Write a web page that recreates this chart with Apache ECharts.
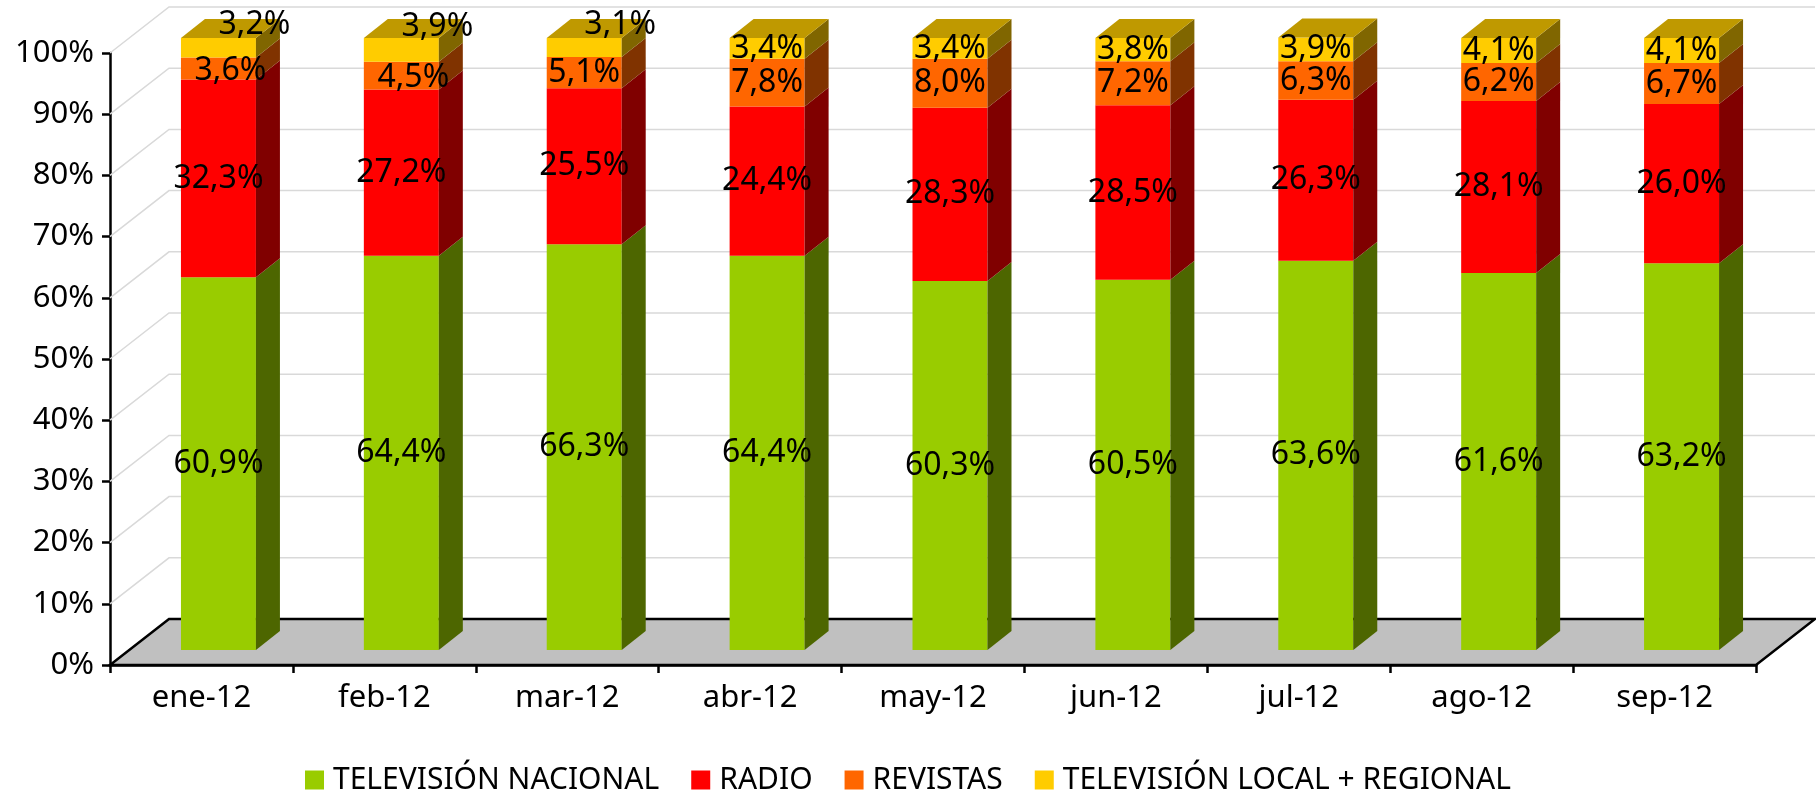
<!DOCTYPE html>
<html>
<head>
<meta charset="utf-8">
<style>
  html, body { margin: 0; padding: 0; background: #fff; }
  #chart { width: 1816px; height: 793px; }
</style>
<script src="https://cdn.jsdelivr.net/npm/echarts@6/dist/echarts.min.js"></script>
</head>
<body>
<div id="chart"></div>
<script>
// Cuota de inversión por medio, ene-12 a sep-12 (100% apilado, estilo 3D)

const months = ['ene-12', 'feb-12', 'mar-12', 'abr-12', 'may-12', 'jun-12', 'jul-12', 'ago-12', 'sep-12']
const tvNacional = [60.9, 64.4, 66.3, 64.4, 60.3, 60.5, 63.6, 61.6, 63.2]
const radio = [32.3, 27.2, 25.5, 24.4, 28.3, 28.5, 26.3, 28.1, 26.0]
const revistas = [3.6, 4.5, 5.1, 7.8, 8.0, 7.2, 6.3, 6.2, 6.7]
const tvLocal = [3.2, 3.9, 3.1, 3.4, 3.4, 3.8, 3.9, 4.1, 4.1]
const yTicks = [10, 20, 30, 40, 50, 60, 70, 80, 90, 100]

const FONT = '"Noto Sans", "DejaVu Sans", sans-serif'
const WALL_DEPTH = [59, -46]   // desplazamiento de la pared del fondo
const BAR_SHIFT = [17, -15]    // la columna está a media profundidad
const BAR_DEPTH = [24, -19]
const BAR_RATIO = 0.41

const SERIES = [
  { name: 'TELEVISIÓN NACIONAL', color: '#99cc00', values: tvNacional },
  { name: 'RADIO', color: '#ff0000', values: radio },
  { name: 'REVISTAS', color: '#ff6600', values: revistas },
  { name: 'TELEVISIÓN LOCAL + REGIONAL', color: '#ffcc00', values: tvLocal }
]

function shade(hex, f) {
  const n = parseInt(hex.slice(1), 16)
  const r = Math.round(((n >> 16) & 255) * f)
  const g = Math.round(((n >> 8) & 255) * f)
  const b = Math.round((n & 255) * f)
  return 'rgb(' + r + ',' + g + ',' + b + ')'
}

function pct(v) {
  return v.toFixed(1).replace('.', ',') + '%'
}

// etiquetas que Excel desplaza fuera de la columna (arriba a la derecha)
function labelOffset(k, i) {
  if (k === 3 && i < 3) return [36, -23]
  if (k === 2 && i < 2) return [12, 2]
  return [0, 0]
}

function boxSeries(k) {
  const s = SERIES[k]
  const isTop = k === SERIES.length - 1
  const data = s.values.map((v, i) => {
    let lo = 0
    for (let j = 0; j < k; j++) lo += SERIES[j].values[i]
    return [i, lo, lo + v, v]
  })
  return {
    type: 'custom',
    name: s.name,
    itemStyle: { color: s.color },
    z: 3,
    data,
    renderItem(params, api) {
      const i = api.value(0)
      const band = api.size([1, 0])[0]
      const w = band * BAR_RATIO
      const pLo = api.coord([i, api.value(1)])
      const pHi = api.coord([i, api.value(2)])
      const cx = pLo[0] + BAR_SHIFT[0]
      const x0 = cx - w / 2
      const yLo = pLo[1] + BAR_SHIFT[1]
      const yHi = pHi[1] + BAR_SHIFT[1]
      const [dx, dy] = BAR_DEPTH
      const children = [
        { type: 'rect', shape: { x: x0, y: yHi, width: w, height: yLo - yHi }, style: { fill: s.color } },
        {
          type: 'polygon',
          shape: { points: [[x0 + w, yHi], [x0 + w + dx, yHi + dy], [x0 + w + dx, yLo + dy], [x0 + w, yLo]] },
          style: { fill: shade(s.color, 0.5) }
        }
      ]
      if (isTop) {
        children.push({
          type: 'polygon',
          shape: { points: [[x0, yHi], [x0 + dx, yHi + dy], [x0 + w + dx, yHi + dy], [x0 + w, yHi]] },
          style: { fill: shade(s.color, 0.75) }
        })
      }
      const off = labelOffset(k, i)
      children.push({
        type: 'text',
        z2: 10,
        style: {
          x: cx + off[0],
          y: (yLo + yHi) / 2 + off[1],
          text: pct(api.value(3)),
          fill: '#000',
          font: '32px ' + FONT,
          align: 'center',
          verticalAlign: 'middle'
        }
      })
      return { type: 'group', children }
    }
  }
}

const wallSeries = {
  type: 'custom',
  silent: true,
  z: 1,
  data: yTicks.map(v => [0, v]),
  renderItem(params, api) {
    const cs = params.coordSys
    const y = api.coord([0, api.value(1)])[1]
    const [dx, dy] = WALL_DEPTH
    return {
      type: 'polyline',
      shape: { points: [[cs.x, y], [cs.x + dx, y + dy], [cs.x + cs.width + dx, y + dy]] },
      style: { stroke: '#d9d9d9', lineWidth: 1.5, fill: null }
    }
  }
}

const floorSeries = {
  type: 'custom',
  silent: true,
  z: 2,
  data: [[0, 0]],
  renderItem(params, api) {
    const cs = params.coordSys
    const y = api.coord([0, 0])[1]
    const [dx, dy] = WALL_DEPTH
    return {
      type: 'polygon',
      shape: { points: [[cs.x, y], [cs.x + cs.width, y], [cs.x + cs.width + dx, y + dy], [cs.x + dx, y + dy]] },
      style: { fill: '#c0c0c0', stroke: '#000', lineWidth: 2.5 }
    }
  }
}

const chart = echarts.init(document.getElementById('chart'))
chart.setOption({
  animation: false,
  textStyle: { fontFamily: FONT },
  grid: { left: 110, right: 60, top: 53, bottom: 128, containLabel: false },
  legend: {
    data: SERIES.map(s => s.name),
    left: 'center',
    top: 760,
    icon: 'rect',
    itemWidth: 19,
    itemHeight: 19,
    itemGap: 32,
    textStyle: { color: '#000', fontSize: 30, fontFamily: FONT, padding: [0, 0, 0, 4] }
  },
  xAxis: {
    type: 'category',
    data: months,
    axisLine: { lineStyle: { color: '#000', width: 2.5 } },
    axisTick: { show: true, length: 8, lineStyle: { color: '#000', width: 2.5 } },
    axisLabel: { color: '#000', fontSize: 31, fontFamily: FONT, margin: 18 },
    splitLine: { show: false }
  },
  yAxis: {
    type: 'value',
    min: 0,
    max: 100,
    interval: 10,
    axisLine: { show: true, lineStyle: { color: '#000', width: 2.5 } },
    axisTick: { show: true, length: 8, lineStyle: { color: '#000', width: 2.5 } },
    axisLabel: { color: '#000', fontSize: 31, fontFamily: FONT, margin: 16, formatter: '{value}%' },
    splitLine: { show: false }
  },
  series: [wallSeries, floorSeries].concat(SERIES.map((_, k) => boxSeries(k)))
})
</script>
</body>
</html>
